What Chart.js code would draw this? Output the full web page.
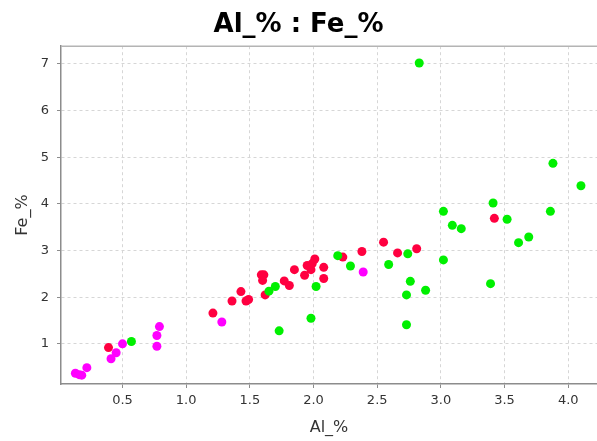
<!DOCTYPE html>
<html>
<head>
<meta charset="utf-8">
<script src="https://cdn.jsdelivr.net/npm/chart.js@4"></script>
<style>
    body { margin: 0; background: #fff; overflow: hidden; }
    #zone { width: 597px; height: 441px; }
</style>
</head>
<body>
<div id="zone"><canvas id="chart-al-fe"></canvas></div>
<script>
const titre = "Al_% : Fe_%";
const titreX = "Al_%";
const titreY = "Fe_%";

const ticksX = [0.5, 1.0, 1.5, 2.0, 2.5, 3.0, 3.5, 4.0];
const ticksY = [1, 2, 3, 4, 5, 6, 7];

// groupe vert
const vertAl = [0.57, 1.65, 1.70, 1.73, 1.98, 2.02, 2.19, 2.29, 2.59, 2.74, 2.76, 2.73, 2.73, 2.83,
    2.88, 3.02, 3.02, 3.09, 3.16, 3.41, 3.39, 3.52, 3.61, 3.69, 3.86, 3.88, 4.10];
const vertFe = [1.05, 2.13, 2.23, 1.28, 1.55, 2.23, 2.89, 2.67, 2.70, 2.93, 2.34, 2.05, 1.41, 7.02,
    2.15, 3.84, 2.80, 3.54, 3.47, 4.02, 2.29, 3.67, 3.17, 3.29, 3.84, 4.87, 4.39];

// groupe magenta
const magentaAl = [0.13, 0.16, 0.18, 0.22, 0.41, 0.45, 0.50, 0.77, 0.77, 0.79, 1.28, 2.39];
const magentaFe = [0.37, 0.34, 0.33, 0.49, 0.68, 0.81, 1.00, 0.95, 1.18, 1.37, 1.47, 2.54];

// groupe rouge
const rougeAl = [0.39, 1.21, 1.36, 1.43, 1.47, 1.49, 1.62, 1.59, 1.61, 1.60, 1.77, 1.81, 1.85,
    1.93, 1.95, 1.98, 1.99, 2.01, 2.08, 2.08, 2.23, 2.38, 2.55, 2.66, 2.81, 3.42];
const rougeFe = [0.92, 1.66, 1.92, 2.12, 1.92, 1.95, 2.05, 2.48, 2.48, 2.36, 2.35, 2.25, 2.59,
    2.47, 2.68, 2.59, 2.72, 2.82, 2.64, 2.40, 2.86, 2.98, 3.18, 2.95, 3.04, 3.69];

const police = "'DejaVu Sans', sans-serif";

function points(xs, ys) {
    return xs.map((x, i) => ({ x: x, y: ys[i] }));
}

function serie(label, xs, ys, couleur) {
    return {
        label: label,
        data: points(xs, ys),
        backgroundColor: couleur,
        borderWidth: 0,
        pointRadius: 4.5,
        pointHoverRadius: 4.5
    };
}

// trait du haut du cadre
const cadreHaut = {
    id: "cadreHaut",
    afterDraw(chart) {
        const { ctx, chartArea } = chart;
        ctx.save();
        ctx.strokeStyle = "#b4b4b4";
        ctx.lineWidth = 1.5;
        ctx.beginPath();
        ctx.moveTo(chartArea.left, chartArea.top);
        ctx.lineTo(chart.width, chartArea.top);
        ctx.stroke();
        ctx.restore();
    }
};

const axeCommun = {
    type: "linear",
    border: { display: true, color: "#8c8c8c", width: 1.5, dash: [3, 3] },
    grid: { color: "#d6d6d6", tickColor: "#8c8c8c", tickLength: 4, tickBorderDash: [] },
};

new Chart(document.getElementById("chart-al-fe"), {
    type: "scatter",
    data: {
        datasets: [
            serie("Vert", vertAl, vertFe, "#00f000"),
            serie("Magenta", magentaAl, magentaFe, "#ff00ff"),
            serie("Rouge", rougeAl, rougeFe, "#ff0040")
        ]
    },
    options: {
        responsive: true,
        maintainAspectRatio: false,
        animation: false,
        layout: { padding: 0, autoPadding: false },
        plugins: {
            legend: { display: false },
            tooltip: { enabled: false },
            title: {
                display: true,
                text: titre,
                color: "#000",
                font: { family: police, size: 26, weight: "bold" },
                padding: { top: 10, bottom: 5 }
            }
        },
        scales: {
            x: {
                ...axeCommun,
                min: 0.017,
                max: 4.226,
                afterBuildTicks: (axe) => { axe.ticks = ticksX.map(v => ({ value: v })); },
                afterFit: (axe) => { axe.height = 57; },
                ticks: {
                    color: "#333",
                    padding: 5,
                    font: { family: police, size: 13 },
                    callback: (v) => Number(v).toFixed(1)
                },
                title: {
                    display: true,
                    text: titreX,
                    color: "#333",
                    font: { family: police, size: 16 },
                    padding: { top: 0, bottom: 4 }
                }
            },
            y: {
                ...axeCommun,
                min: 0.14,
                max: 7.38,
                afterBuildTicks: (axe) => { axe.ticks = ticksY.map(v => ({ value: v })); },
                afterFit: (axe) => { axe.width = 61; },
                ticks: {
                    color: "#333",
                    padding: 8,
                    font: { family: police, size: 13 },
                    callback: (v) => String(v)
                },
                title: {
                    display: true,
                    text: titreY,
                    color: "#333",
                    font: { family: police, size: 16 },
                    padding: { top: 13, bottom: 0 }
                }
            }
        }
    },
    plugins: [cadreHaut]
});
</script>
</body>
</html>
